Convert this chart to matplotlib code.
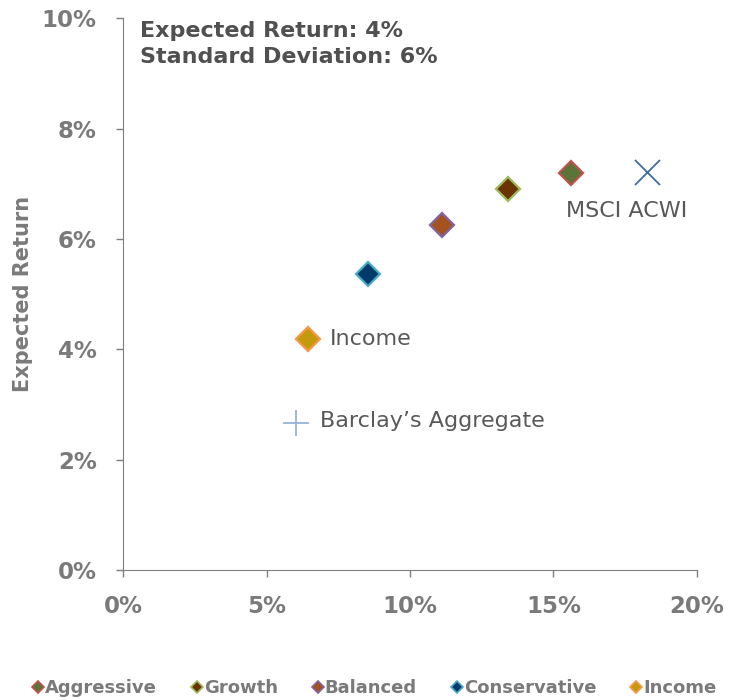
import matplotlib.pyplot as plt
from matplotlib.lines import Line2D
from matplotlib.ticker import FuncFormatter

# portfolio data (risk = std dev %, return = expected %)
portfolios = ["Aggressive", "Growth", "Balanced", "Conservative", "Income"]
port_risk = [15.6, 13.4, 11.1, 8.55, 6.45]
port_return = [7.2, 6.9, 6.25, 5.37, 4.18]
fill_colors = ["#5B7538", "#6B3300", "#A5531E", "#003A6B", "#C29A0C"]
edge_colors = ["#C0504D", "#9BBB59", "#8064A2", "#4BACC6", "#F79646"]

msci_risk, msci_return = 18.25, 7.21
barc_risk, barc_return = 6.03, 2.67

gray = "#595959"
light_gray = "#7A7A7A"
plt.rcParams['font.family'] = ['DejaVu Sans']

fig = plt.figure(figsize=(7.47, 7.0), dpi=100)
ax = fig.add_axes([0.1647, 0.1857, 0.933 - 0.1647, 0.974 - 0.1857])

for name, x, y, fc, ec in zip(portfolios, port_risk, port_return, fill_colors, edge_colors):
    ax.plot(x, y, marker="D", ms=12, mfc=fc, mec=ec, mew=1.6, ls="none", zorder=3)

ax.plot(msci_risk, msci_return, marker="x", ms=18, mec="#3C6BA5", mew=1.3, ls="none")
ax.plot(barc_risk, barc_return, marker="+", ms=19, mec="#95B3D7", mew=1.3, ls="none")

ax.annotate("Income", (port_risk[-1], port_return[-1]), xytext=(16, 0),
            textcoords="offset points", va="center", ha="left", fontsize=16, color=gray)
ax.annotate("MSCI ACWI", (msci_risk, msci_return), xytext=(-58, -28),
            textcoords="offset points", va="center", ha="left", fontsize=16, color=gray)
ax.annotate("Barclay\u2019s Aggregate", (barc_risk, barc_return), xytext=(17, 1),
            textcoords="offset points", va="center", ha="left", fontsize=16, color=gray)

ax.text(0.03, 0.995, "Expected Return: 4%\nStandard Deviation: 6%", transform=ax.transAxes,
        ha="left", va="top", fontsize=16, fontweight="bold", color="#505050", linespacing=1.4)

ax.set_xlim(0, 20)
ax.set_ylim(0, 10)
ax.set_xticks([0, 5, 10, 15, 20])
ax.set_yticks([0, 2, 4, 6, 8, 10])
ax.xaxis.set_major_formatter(FuncFormatter(lambda v, p: "%d%%" % v))
ax.yaxis.set_major_formatter(FuncFormatter(lambda v, p: "%d%%" % v))
for lab in ax.get_xticklabels() + ax.get_yticklabels():
    lab.set_fontweight("bold")
ax.tick_params(colors="#7F7F7F", labelcolor=light_gray, labelsize=16.5, length=5, width=1)
ax.tick_params(axis="x", pad=13)
ax.tick_params(axis="y", pad=14)
for side in ("top", "right"):
    ax.spines[side].set_visible(False)
for side in ("left", "bottom"):
    ax.spines[side].set_color("#7F7F7F")
ax.set_ylabel("Expected Return", fontsize=15, fontweight="bold", color=light_gray, labelpad=6)

handles = [Line2D([], [], marker="D", ms=6, mfc=fc, mec=ec, mew=1.2, ls="none")
           for fc, ec in zip(fill_colors, edge_colors)]
fig.legend(handles, portfolios, loc="center", bbox_to_anchor=(0.5, 0.017), ncol=5,
           frameon=False, handletextpad=0.0, columnspacing=1.8, handlelength=0.8,
           prop={"weight": "bold", "size": 13}, labelcolor=light_gray)

fig.savefig("out.png", dpi=100)
